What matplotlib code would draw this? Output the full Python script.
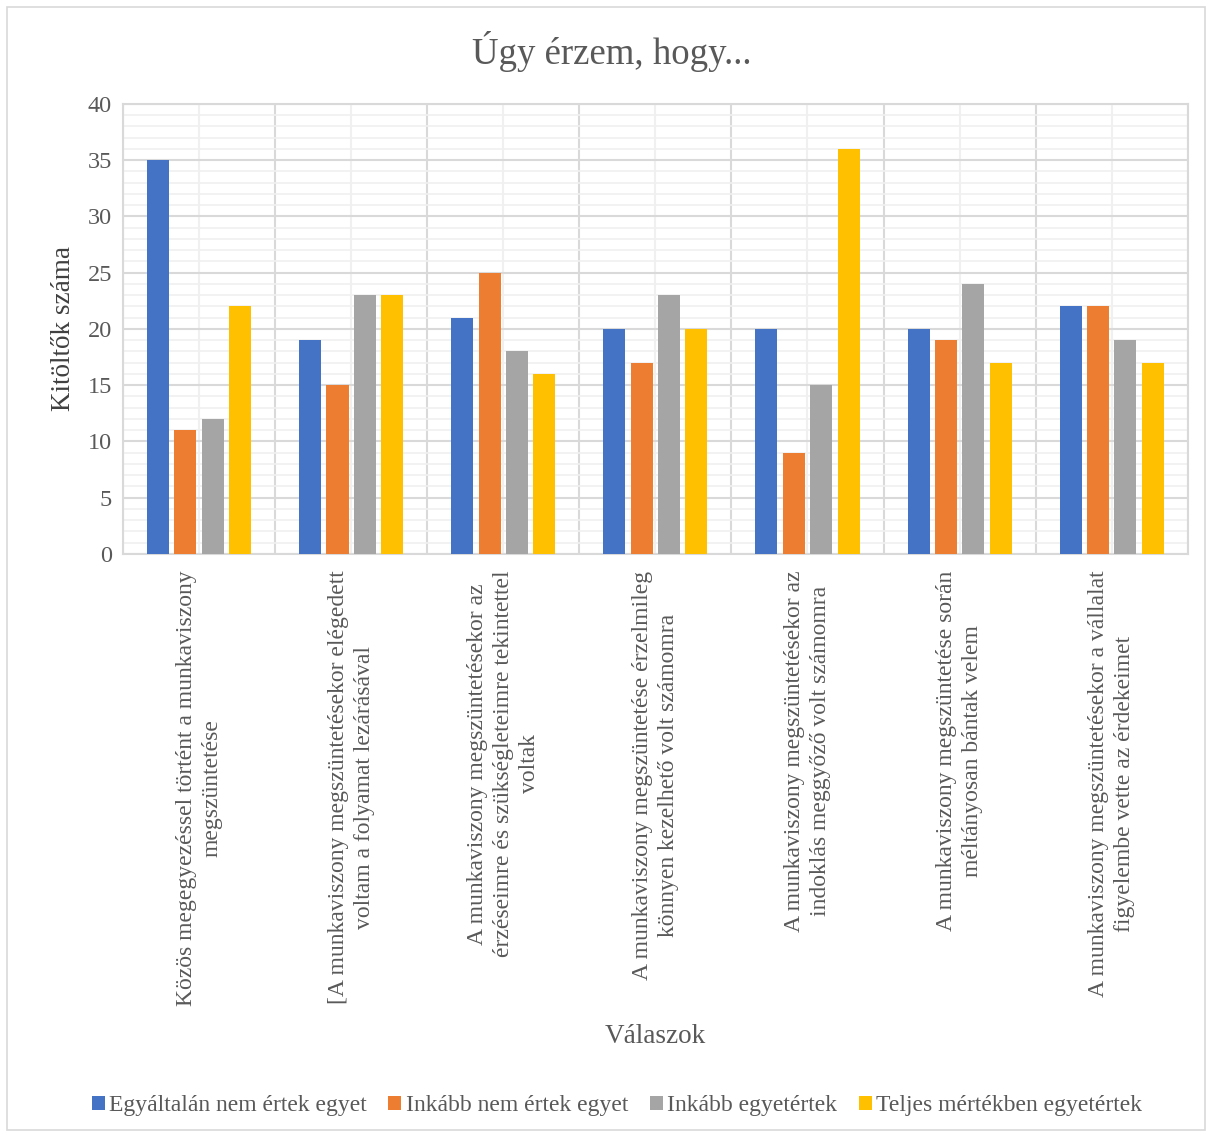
import numpy as np
import matplotlib
matplotlib.use("Agg")
import matplotlib.pyplot as plt
from matplotlib.patches import Rectangle
from matplotlib.ticker import MultipleLocator, FixedLocator

plt.rcParams['font.family'] = ['Liberation Serif', 'DejaVu Serif']

categories = [
    "Közös megegyezéssel történt a munkaviszony\nmegszüntetése",
    "[A munkaviszony megszüntetésekor elégedett\nvoltam a folyamat lezárásával",
    "A munkaviszony megszüntetésekor az\nérzéseimre és szükségleteimre tekintettel\nvoltak",
    "A munkaviszony megszüntetése érzelmileg\nkönnyen kezelhető volt számomra",
    "A munkaviszony megszüntetésekor az\nindoklás meggyőző volt számomra",
    "A munkaviszony megszüntetése során\nméltányosan bántak velem",
    "A munkaviszony megszüntetésekor a vállalat\nfigyelembe vette az érdekeimet",
]
series_names = ["Egyáltalán nem értek egyet", "Inkább nem értek egyet",
                "Inkább egyetértek", "Teljes mértékben egyetértek"]
not_agree = [35, 19, 21, 20, 20, 20, 22]
rather_not = [11, 15, 25, 17, 9, 19, 22]
rather_agree = [12, 23, 18, 23, 15, 24, 19]
fully_agree = [22, 23, 16, 20, 36, 17, 17]
values = [not_agree, rather_not, rather_agree, fully_agree]
colors = ["#4472C4", "#ED7D31", "#A5A5A5", "#FFC000"]

fig = plt.figure(figsize=(12.12, 11.35), dpi=100)
ax = fig.add_axes([0.1015, 0.5119, 0.8785, 0.3965])

x = np.arange(len(categories))
bar_w = 0.145
step = 0.18
for i, (vals, name, c) in enumerate(zip(values, series_names, colors)):
    ax.bar(x + (i - 1.5) * step, vals, bar_w, color=c, label=name, zorder=3)

ax.set_xlim(-0.5, len(categories) - 0.5)
ax.set_ylim(0, 40)
ax.yaxis.set_major_locator(MultipleLocator(5))
ax.yaxis.set_minor_locator(MultipleLocator(1))
ax.xaxis.set_major_locator(FixedLocator(x))
ax.xaxis.set_minor_locator(FixedLocator(np.arange(-0.5, len(categories), 1)))
ax.set_xticklabels(categories, rotation=90, ha='center', va='top',
                   multialignment='center', fontsize=17, color='#595959',
                   linespacing=1.3)
ax.tick_params(axis='y', which='both', labelsize=17.5, colors='#595959', length=0, pad=8)
ax.tick_params(axis='x', which='both', length=0, pad=12)

ax.grid(axis='y', which='major', color='#d9d9d9', lw=1.5, zorder=0)
ax.grid(axis='y', which='minor', color='#f0f0f0', lw=1.2, zorder=0)
ax.grid(axis='x', which='minor', color='#d9d9d9', lw=1.5, zorder=0)
ax.grid(axis='x', which='major', color='#f0f0f0', lw=1.5, zorder=0)
for s in ax.spines.values():
    s.set_color('#d9d9d9')
    s.set_linewidth(1.5)

ax.set_ylabel("Kitöltők száma", fontsize=19.5, color='#404040', labelpad=8)
fig.text(0.541, 0.087, "Válaszok", fontsize=19.5, color='#595959', ha='center', va='center')
fig.text(0.505, 0.955, "Úgy érzem, hogy...", fontsize=26.5, color='#595959', ha='center', va='center')

fig.legend(loc='center', bbox_to_anchor=(0.509, 0.026), ncol=4, frameon=False,
           fontsize=17, handlelength=0.55, handleheight=0.55, handletextpad=0.2,
           columnspacing=0.9, labelcolor='#595959')

fig.patches.append(Rectangle((0.006, 0.004), 0.988, 0.99, transform=fig.transFigure,
                             fill=False, edgecolor='#d9d9d9', lw=1.2))

fig.savefig("out.png", dpi=100)
